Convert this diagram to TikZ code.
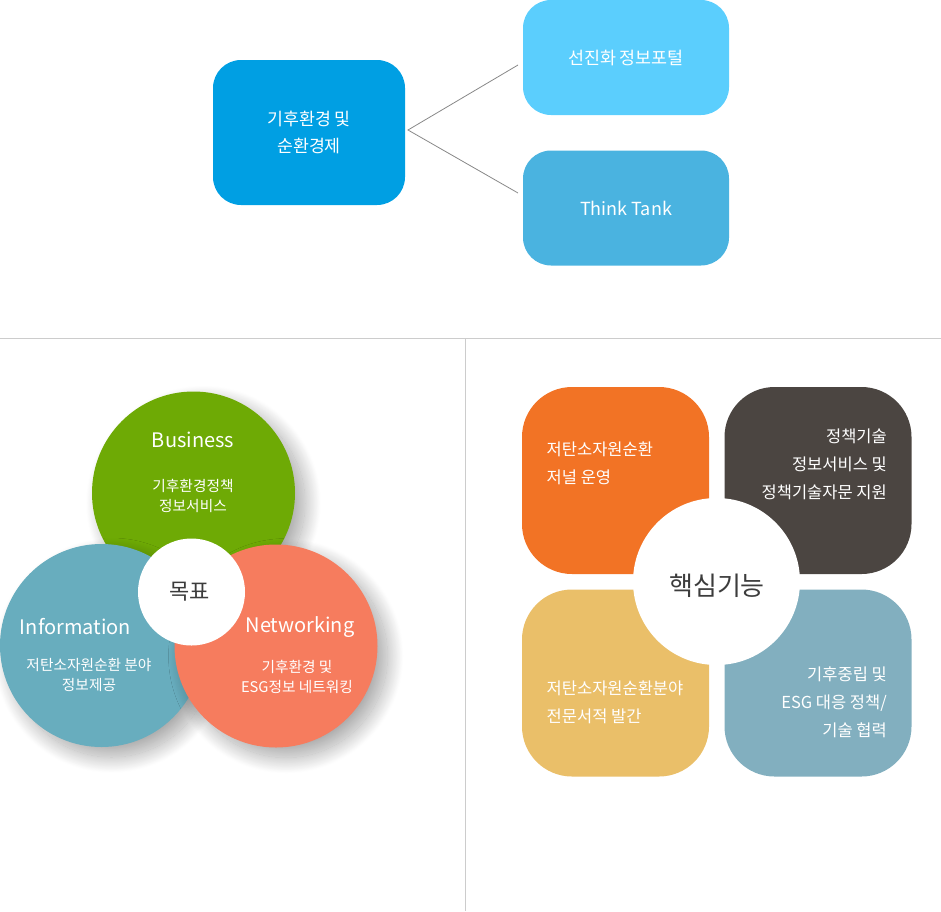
\documentclass[tikz,border=0pt]{standalone}
\usepackage{fontspec}
\setmainfont{Noto Sans CJK KR}
\usetikzlibrary{shadows.blur}
\definecolor{mainblue}{RGB}{0,159,227}
\definecolor{lightcyan}{RGB}{91,206,253}
\definecolor{midblue}{RGB}{74,179,224}
\definecolor{connc}{RGB}{136,136,136}
\definecolor{sepc}{RGB}{204,204,204}
\definecolor{vgreen}{RGB}{110,170,5}
\definecolor{vblue}{RGB}{104,173,190}
\definecolor{vorange}{RGB}{246,124,94}
\definecolor{qorange}{RGB}{242,115,37}
\definecolor{qdark}{RGB}{75,69,65}
\definecolor{qyellow}{RGB}{234,191,105}
\definecolor{qblue}{RGB}{130,175,191}
\definecolor{txtdark}{RGB}{60,60,60}
\begin{document}
\begin{tikzpicture}[x=1pt,y=-1pt,
  topbox/.style={rounded corners=28pt, minimum width=#1, inner sep=0pt, text=white, align=center},
  quad/.style={rounded corners=50pt, minimum width=187pt, minimum height=187pt, inner sep=0pt},
  vcircle/.style={circle, minimum size=203pt, inner sep=0pt,
     blur shadow={shadow xshift=10pt, shadow yshift=-10pt, shadow blur radius=16pt, shadow blur steps=40, shadow opacity=35}},
  vtitle/.style={text=white, font=\fontsize{20}{24}\selectfont, inner sep=0pt},
  vsub/.style={text=white, font=\fontsize{14.7}{20}\selectfont, align=center, inner sep=0pt},
  qtext/.style={text=white, font=\fontsize{16.5}{28}\selectfont, inner sep=0pt},
  conn/.style={draw=connc, line width=0.8pt},
  sep/.style={draw=sepc, line width=0.8pt}
]
\useasboundingbox (0,0) rectangle (941,911);

% ---- top section ----
\node[topbox=192pt, minimum height=145pt, fill=mainblue, font=\fontsize{17.3}{27}\selectfont]
  (main) at (309,132.5) {기후환경 및\\순환경제};
\node[topbox=206pt, minimum height=115pt, fill=lightcyan, font=\fontsize{17.4}{20}\selectfont]
  (portal) at (626,57.5) {선진화 정보포털};
\node[topbox=206pt, minimum height=115pt, fill=midblue, font=\fontsize{18}{22}\selectfont]
  (tank) at (626,208) {Think Tank};
\coordinate (j) at (408,130);
\coordinate (e1) at (518,65);
\coordinate (e2) at (518,193);
\draw[conn] (e1) -- (j) -- (e2);

% ---- separators ----
\coordinate (h1) at (0,338.5);
\coordinate (h2) at (941,338.5);
\coordinate (v1) at (465,338.5);
\coordinate (v2) at (465,911);
\draw[sep] (h1) -- (h2);
\draw[sep] (v1) -- (v2);

% ---- venn ----
\node[vcircle, fill=vgreen] (bus) at (193.5,493) {};
\node[vcircle, fill=vblue] (inf) at (101.5,645.5) {};
\node[vcircle, fill=vorange] (net) at (276,646) {};
\node[circle, fill=white, minimum size=107pt, inner sep=0pt] (goal) at (191.5,592) {};
\node[text=txtdark, font=\fontsize{22}{26}\selectfont] (goalt) at (189.5,592) {목표};

\node[vtitle] (bust) at (193,440) {Business};
\node[vsub] (buss) at (193,495.5) {기후환경정책\\정보서비스};
\node[vtitle] (inft) at (75.5,627) {Information};
\node[vsub] (infs) at (89,675) {저탄소자원순환 분야\\정보제공};
\node[vtitle] (nett) at (300,627) {Networking};
\node[vsub] (nets) at (297,676.5) {기후환경 및\\ESG정보 네트워킹};

% ---- core functions ----
\node[quad, fill=qorange] (q1) at (615.5,480.5) {};
\node[quad, fill=qdark] (q2) at (818,480.5) {};
\node[quad, fill=qyellow] (q3) at (615.5,683) {};
\node[quad, fill=qblue] (q4) at (818,683) {};
\node[circle, fill=white, minimum size=167pt, inner sep=0pt] (core) at (716.5,581.5) {};
\node[text=txtdark, font=\fontsize{26}{30}\selectfont] (coret) at (717,586) {핵심기능};

\node[qtext, anchor=west, align=left] (q1t) at (546.5,463.5) {저탄소자원순환\\저널 운영};
\node[qtext, anchor=east, align=right] (q2t) at (887,464) {정책기술\\정보서비스 및\\정책기술자문 지원};
\node[qtext, anchor=west, align=left] (q3t) at (546.5,702) {저탄소자원순환분야\\전문서적 발간};
\node[qtext, anchor=east, align=right] (q4t) at (887,702) {기후중립 및\\ESG 대응 정책/\\기술 협력};
\end{tikzpicture}
\end{document}
